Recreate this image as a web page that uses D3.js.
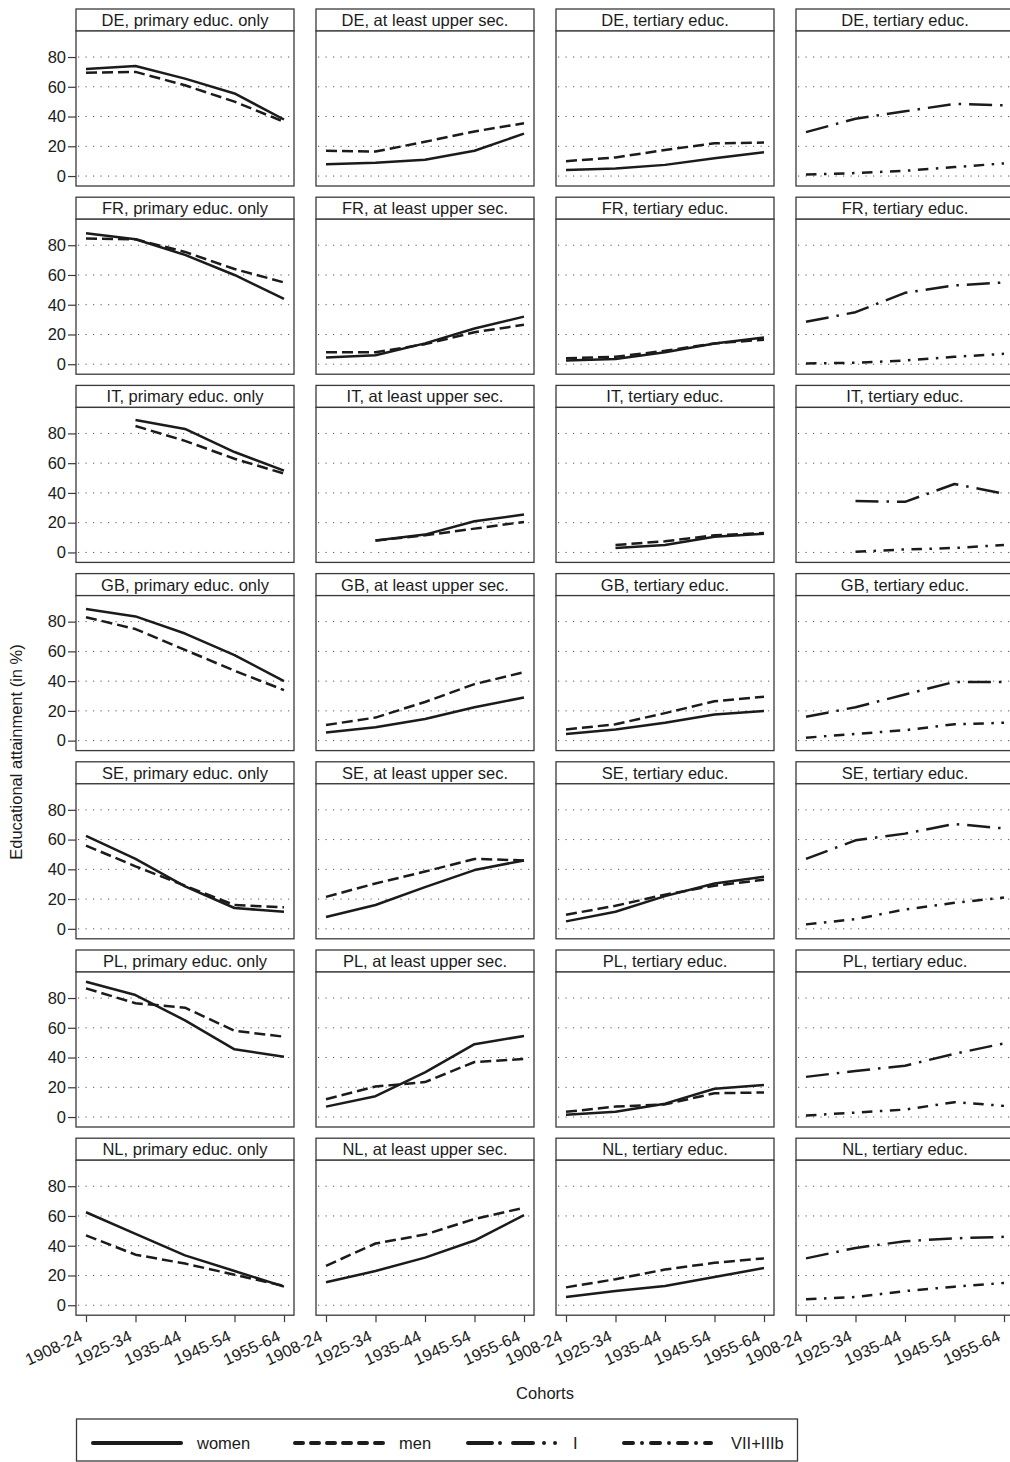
<!DOCTYPE html>
<html>
<head>
<meta charset="utf-8">
<script src="https://cdn.jsdelivr.net/npm/d3@7"></script>
<style>
  html, body { margin: 0; padding: 0; background: #fff; }
  svg { display: block; font-family: "Liberation Sans", Arial, Helvetica, sans-serif; }
</style>
</head>
<body>
<svg id="chart" width="1010" height="1462"></svg>
<script>
// Birth cohorts on the x axis
const cohorts = ["1908-24", "1925-34", "1935-44", "1945-54", "1955-64"];
// Countries, one row of panels each
const countries = ["DE", "FR", "IT", "GB", "SE", "PL", "NL"];
// Column headings (after the country code)
const panelTitles = ["primary educ. only", "at least upper sec.", "tertiary educ.", "tertiary educ."];
const yTicks = [0, 20, 40, 60, 80];

// Share with primary education only (%), rows follow `countries`
const womenPrimary = [
  [72, 74, 65.5, 55.5, 38],
  [88, 84, 73.5, 60, 44],
  [null, 89, 83, 67.5, 55],
  [88.5, 83.5, 72, 57.5, 40],
  [62.5, 47, 28.5, 14, 11.5],
  [91, 82, 65, 45.5, 40.5],
  [62.5, 48, 33.5, 23, 12.5]
];
const menPrimary = [
  [69.5, 70, 61, 50, 36.5],
  [84.5, 84, 75.5, 64, 55],
  [null, 85, 75, 63, 53],
  [83, 75, 61, 47, 34],
  [56, 42, 29, 16, 14.5],
  [86.5, 76.5, 73.5, 58, 54],
  [47, 34, 28, 20.5, 13]
];
// Share with at least upper secondary education (%)
const womenUpper = [
  [8, 9, 11, 17, 28.5],
  [4.5, 6, 14, 24, 32],
  [null, 8, 12, 21, 25.5],
  [5.5, 9, 14.5, 22.5, 29],
  [8, 16, 28, 39.5, 46],
  [7, 14, 30, 49, 54.5],
  [15.5, 23, 32, 43.5, 60.5]
];
const menUpper = [
  [17, 16.5, 23, 30, 35.5],
  [8, 8, 13.5, 21.5, 26.5],
  [null, 8, 11.5, 16, 20.5],
  [10.5, 15.5, 26, 38, 46],
  [21.5, 30.5, 38.5, 47, 46],
  [12, 20.5, 23.5, 37, 39],
  [26.5, 41.5, 47.5, 58, 65.5]
];
// Share with tertiary education by gender (%)
const womenTertiary = [
  [4, 5, 7.5, 12, 16],
  [2.5, 3.5, 8, 14, 18],
  [null, 3, 5, 10.5, 12.5],
  [4.5, 7.5, 12, 17.5, 20],
  [5, 11.5, 22, 30.5, 35],
  [1.5, 3.5, 9, 19, 21.5],
  [5.5, 9.5, 13, 19, 25]
];
const menTertiary = [
  [10, 12.5, 17.5, 22, 22.5],
  [4, 5, 9, 14, 16.5],
  [null, 5, 7.5, 11.5, 13],
  [7.5, 11, 18.5, 26.5, 29.5],
  [9.5, 15.5, 23, 29, 33],
  [3.5, 7, 8.5, 16, 16.5],
  [12, 17.5, 24, 28.5, 31.5]
];
// Share with tertiary education by class of origin (%)
const classI = [
  [29.5, 38.5, 43.5, 48.5, 47.5],
  [28.5, 35, 48, 53, 55],
  [null, 34.5, 34, 46, 39.5],
  [16, 22.5, 31, 39.5, 39.5],
  [47, 59.5, 64, 70.5, 67.5],
  [27, 31, 34.5, 42.5, 49.5],
  [31.5, 38.5, 43, 45, 46]
];
const classVII = [
  [1, 2, 3.5, 6, 8.5],
  [0.5, 1, 2.5, 5, 7],
  [null, 0.5, 2, 3, 5],
  [2, 4.5, 7, 11, 12],
  [3, 6.5, 13, 17.5, 21],
  [1, 3, 5, 10, 7.5],
  [4, 5.5, 9.5, 12.5, 15]
];

// Line styles per series
const styles = {
  women: { dash: null, cap: "butt" },
  men:   { dash: "11,5", cap: "butt" },
  I:     { dash: "23,8,2.5,8", cap: "butt" },
  VII:   { dash: "10.5,7.5,2.5,7.5", cap: "butt" }
};

// Which series go into each column
const columns = [
  [{ key: "women", data: womenPrimary }, { key: "men", data: menPrimary }],
  [{ key: "women", data: womenUpper }, { key: "men", data: menUpper }],
  [{ key: "women", data: womenTertiary }, { key: "men", data: menTertiary }],
  [{ key: "I", data: classI }, { key: "VII", data: classVII }]
];

const svg = d3.select("#chart");
const ink = "#1b1b1b";
const frame = "#3a3a3a";
const fontSize = 16.5;

const colX = [76, 316, 556, 796];
const panelW = 218, padX = 10;
const rowTop = i => 9 + i * 188.2;
const headerH = 22, plotH = 155;

countries.forEach((country, r) => {
  const top = rowTop(r);
  const plotTop = top + headerH;
  const plotBottom = plotTop + plotH;
  const y = d3.scaleLinear().domain([-6.7, 97.5]).range([plotBottom, plotTop]);

  columns.forEach((series, c) => {
    const x0 = colX[c];
    const x = d3.scalePoint().domain(cohorts).range([x0 + padX, x0 + panelW - padX]);
    const g = svg.append("g");

    // header strip
    g.append("rect")
      .attr("x", x0).attr("y", top).attr("width", panelW).attr("height", headerH)
      .attr("fill", "#fff").attr("stroke", frame).attr("stroke-width", 1.3);
    g.append("text")
      .attr("x", x0 + panelW / 2).attr("y", top + 17)
      .attr("text-anchor", "middle").attr("font-size", fontSize).attr("fill", ink)
      .text(`${country}, ${panelTitles[c]}`);

    // plot frame
    g.append("rect")
      .attr("x", x0).attr("y", plotTop).attr("width", panelW).attr("height", plotH)
      .attr("fill", "#fff").attr("stroke", frame).attr("stroke-width", 1.3);

    // dotted gridlines
    g.selectAll("line.grid").data(yTicks).join("line")
      .attr("class", "grid")
      .attr("x1", x0 + 2).attr("x2", x0 + panelW - 1)
      .attr("y1", d => y(d)).attr("y2", d => y(d))
      .attr("stroke", "#555").attr("stroke-width", 1)
      .attr("stroke-dasharray", "1.2,6.3");

    // series lines
    const line = d3.line()
      .defined(d => d != null)
      .x((d, i) => x(cohorts[i]))
      .y(d => y(d));
    series.forEach(s => {
      const st = styles[s.key];
      g.append("path")
        .attr("d", line(s.data[r]))
        .attr("fill", "none")
        .attr("stroke", ink)
        .attr("stroke-width", 2.5)
        .attr("stroke-linejoin", "round")
        .attr("stroke-linecap", st.cap)
        .attr("stroke-dasharray", st.dash);
    });

    // y axis on the first column
    if (c === 0) {
      const ax = g.append("g")
        .attr("transform", `translate(${x0},0)`)
        .call(d3.axisLeft(y).tickValues(yTicks).tickSize(8).tickPadding(2));
      ax.select(".domain").remove();
      ax.selectAll(".tick line").attr("stroke", frame).attr("stroke-width", 1.2);
      ax.selectAll(".tick text").attr("font-size", fontSize).attr("fill", ink)
        .attr("font-family", null);
    }

    // x axis under the last row
    if (r === countries.length - 1) {
      const ax = g.append("g")
        .attr("transform", `translate(0,${plotBottom})`)
        .call(d3.axisBottom(x).tickSize(7));
      ax.select(".domain").remove();
      ax.selectAll(".tick line").attr("stroke", frame).attr("stroke-width", 1.2);
      ax.selectAll(".tick text")
        .attr("y", null).attr("dy", null)
        .attr("text-anchor", "end")
        .attr("transform", "translate(-3,25) rotate(-25)")
        .attr("font-size", fontSize).attr("fill", ink)
        .attr("font-family", null);
    }
  });
});

// axis titles
svg.append("text")
  .attr("transform", "translate(22,752) rotate(-90)")
  .attr("text-anchor", "middle").attr("font-size", fontSize).attr("fill", ink)
  .text("Educational attainment (in %)");
svg.append("text")
  .attr("x", 545).attr("y", 1399)
  .attr("text-anchor", "middle").attr("font-size", fontSize).attr("fill", ink)
  .text("Cohorts");

// legend
const legendItems = [
  { label: "women", x: 91, tx: 197, dash: null, len: 92 },
  { label: "men", x: 293, tx: 399, dash: "8,8", len: 92 },
  { label: "I", x: 466, tx: 573, dash: "24,8,0.01,13,20,11,0.01,11,0.01,60", len: 92 },
  { label: "VII+IIIb", x: 622, tx: 731, dash: "9,9,0.01,9", len: 91 }
];
const lg = svg.append("g");
lg.append("rect")
  .attr("x", 76.5).attr("y", 1419).attr("width", 721).attr("height", 42)
  .attr("fill", "#fff").attr("stroke", frame).attr("stroke-width", 1.3);
const legendY = 1443;
legendItems.forEach(d => {
  lg.append("line")
    .attr("x1", d.x + 2).attr("x2", d.x + d.len - 2)
    .attr("y1", legendY).attr("y2", legendY)
    .attr("stroke", ink).attr("stroke-width", 4)
    .attr("stroke-linecap", "round")
    .attr("stroke-dasharray", d.dash);
  lg.append("text")
    .attr("x", d.tx).attr("y", legendY + 6)
    .attr("font-size", fontSize).attr("fill", ink)
    .text(d.label);
});
</script>
</body>
</html>
